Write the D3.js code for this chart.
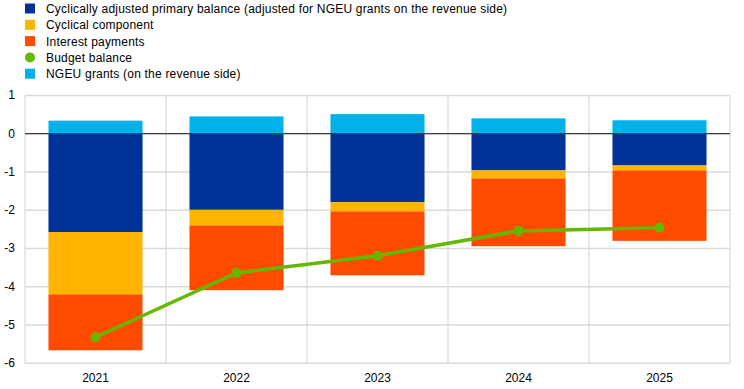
<!DOCTYPE html>
<html><head><meta charset="utf-8">
<script src="https://cdn.jsdelivr.net/npm/d3@7"></script>
<style>body{margin:0;background:#fff}svg{display:block;font-family:Arial,"Liberation Sans",sans-serif}</style>
</head><body><svg id="c" width="744" height="389"></svg>
<script>
const years = ["2021","2022","2023","2024","2025"];
const capb = [-2.57,-1.99,-1.79,-0.96,-0.83];
const cyclical = [-1.63,-0.41,-0.24,-0.21,-0.13];
const interest = [-1.46,-1.69,-1.67,-1.77,-1.84];
const ngeu = [0.34,0.45,0.51,0.40,0.35];
const budget = [-5.32,-3.64,-3.19,-2.54,-2.46];
const yTicks = [1,0,-1,-2,-3,-4,-5,-6];
const legendLabels = ["Cyclically adjusted primary balance (adjusted for NGEU grants on the revenue side)","Cyclical component","Interest payments","Budget balance","NGEU grants (on the revenue side)"];
const colors = {capb:"#003299",cyc:"#FFB400",int:"#FF4B00",bud:"#65B800",ngeu:"#00B1EA"};

const svg = d3.select("#c");
const L=25,R=730,T=95.4,B=363.3;
const x = d3.scaleBand().domain(years).range([L,R]).paddingInner(0.333).paddingOuter(0.1665);
const xc = d3.scaleBand().domain(years).range([L,R]);
const y = d3.scaleLinear().domain([-6,1]).range([B,T]);

// grid
svg.append("g").selectAll("line").data(yTicks).join("line")
  .attr("x1",L).attr("x2",R).attr("y1",d=>y(d)).attr("y2",d=>y(d))
  .attr("stroke","#d9d9d9").attr("stroke-width",1.5);
svg.append("g").selectAll("line").data(years.slice(1).concat(["end"])).join("line")
  .attr("x1",(d,i)=> i<4? xc(d): R).attr("x2",(d,i)=> i<4? xc(d): R)
  .attr("y1",T).attr("y2",B).attr("stroke","#d9d9d9").attr("stroke-width",1.2);
svg.append("line").attr("x1",L).attr("x2",L).attr("y1",T).attr("y2",B).attr("stroke","#d9d9d9").attr("stroke-width",1.2);

// stacked bars
const stacks = years.map((yr,i)=>{
  const a=capb[i], b=a+cyclical[i], c=b+interest[i];
  return [
    {yr,y0:0,y1:a,col:colors.capb},
    {yr,y0:a,y1:b,col:colors.cyc},
    {yr,y0:b,y1:c,col:colors.int},
    {yr,y0:0,y1:ngeu[i],col:colors.ngeu}
  ];
}).flat();
svg.append("g").selectAll("rect").data(stacks).join("rect")
  .attr("x",d=>x(d.yr)).attr("width",x.bandwidth())
  .attr("y",d=>y(Math.max(d.y0,d.y1))).attr("height",d=>Math.abs(y(d.y0)-y(d.y1)))
  .attr("fill",d=>d.col);

// zero line
svg.append("line").attr("x1",L).attr("x2",R).attr("y1",y(0)).attr("y2",y(0)).attr("stroke","#404040").attr("stroke-width",1.3);

// line
const cx = d=>xc(d)+xc.bandwidth()/2;
svg.append("path").datum(budget.map((v,i)=>[cx(years[i]),y(v)]))
  .attr("d",d3.line()).attr("fill","none").attr("stroke",colors.bud).attr("stroke-width",3.5);
svg.append("g").selectAll("circle").data(budget).join("circle")
  .attr("cx",(d,i)=>cx(years[i])).attr("cy",d=>y(d)).attr("r",5).attr("fill",colors.bud);

// axes labels
svg.append("g").selectAll("text").data(yTicks).join("text")
  .attr("x",15).attr("y",d=>y(d)+4).attr("text-anchor","end").attr("font-size",12).attr("fill","#000").text(d=>d);
svg.append("g").selectAll("text").data(years).join("text")
  .attr("x",d=>cx(d)).attr("y",382).attr("text-anchor","middle").attr("font-size",12).attr("fill","#000").text(d=>d);

// legend
const legCols=[colors.capb,colors.cyc,colors.int,colors.bud,colors.ngeu];
const lg = svg.append("g").selectAll("g").data(legendLabels).join("g")
  .attr("transform",(d,i)=>`translate(25,${8.5+i*16.3})`);
lg.each(function(d,i){
  const g=d3.select(this);
  if(i===3) g.append("circle").attr("cx",5).attr("cy",0).attr("r",5).attr("fill",legCols[i]);
  else g.append("rect").attr("x",0).attr("y",-5).attr("width",10).attr("height",10).attr("fill",legCols[i]);
  g.append("text").attr("x",21).attr("y",4.5).attr("font-size",12).attr("letter-spacing",0.2).attr("fill","#000").text(d);
});
</script></body></html>
